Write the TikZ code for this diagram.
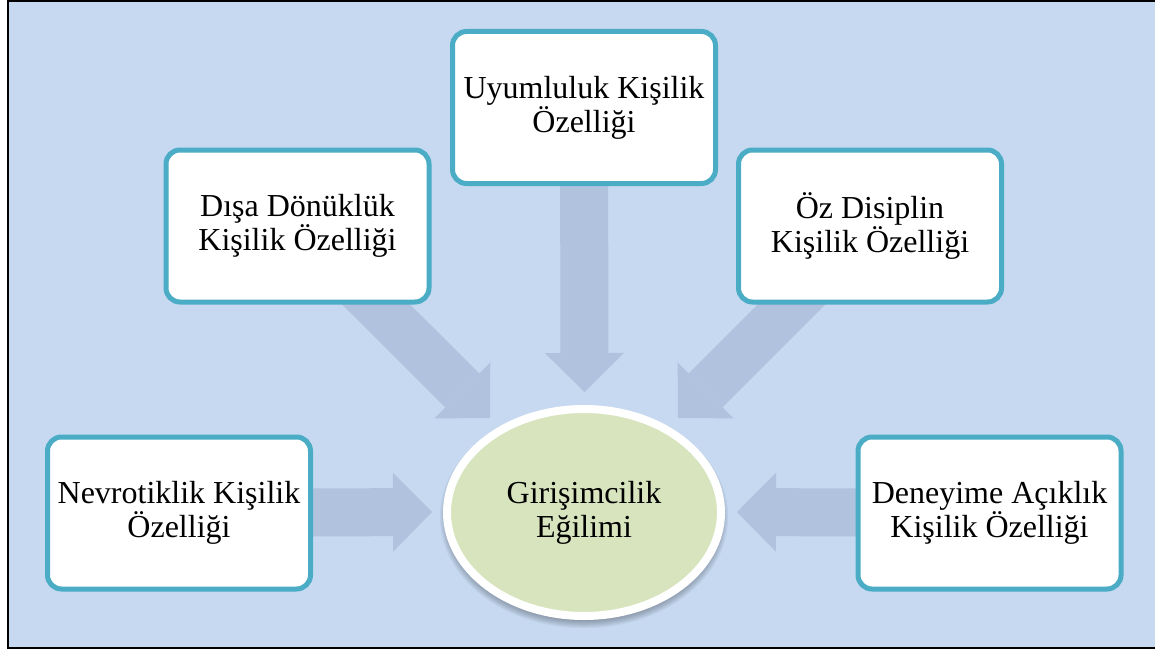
\documentclass[tikz,border=0pt]{standalone}
\usepackage{fontspec}
\setmainfont{Liberation Serif}
\usetikzlibrary{shapes.geometric,arrows.meta}
\definecolor{bgblue}{HTML}{C6D9F1}
\definecolor{arrowblue}{HTML}{B0C2DE}
\definecolor{boxteal}{HTML}{4BACC6}
\definecolor{ellgreen}{HTML}{D7E4BD}
\begin{document}
\begin{tikzpicture}[x=1pt,y=-1pt,
  trait/.style={draw=boxteal, line width=5pt, fill=white, rounded corners=14pt,
    minimum width=263pt, minimum height=152pt, align=center,
    font=\fontsize{32}{34}\selectfont, inner sep=0pt},
  bigarrow/.style={draw=arrowblue, line width=48pt,
    -{Triangle[width=79pt,length=39pt,line width=0pt]}},
  centre/.style={ellipse, draw=white, line width=8pt, fill=ellgreen,
    minimum width=274pt, minimum height=207pt, align=center,
    font=\fontsize{32}{34}\selectfont, inner sep=0pt}]
\useasboundingbox (0,0) rectangle (1155,650);
\fill[bgblue] (8,1) rectangle (1170,648);
\draw[line width=2pt] (8,1) rectangle (1170,648);

% anchor positions
\coordinate (cT) at (584,107.5);
\coordinate (cL) at (297.5,226);
\coordinate (cR) at (870,226);
\coordinate (cN) at (179,513);
\coordinate (cD) at (989.5,513);
\coordinate (tT) at (584.5,392);
\coordinate (tL) at (490,418);
\coordinate (tR) at (678,418);
\coordinate (tN) at (432,512);
\coordinate (tD) at (737,512);

% arrows (behind the boxes)
\draw[bigarrow] (cT) -- (tT);
\draw[bigarrow] (cL) -- (tL);
\draw[bigarrow] (cR) -- (tR);
\draw[bigarrow] (cN) -- (tN);
\draw[bigarrow] (cD) -- (tD);

% shadow of the ellipse
\foreach \i in {0,1,...,6}{
  \fill[black, opacity=0.045] (584,517) ellipse [x radius={(137+\i*1.2)*1pt}, y radius={(104+\i*1.2)*1pt}];
}

\node[trait] (top) at (cT) {Uyumluluk Kişilik\\Özelliği};
\node[trait] (ext) at (cL) {Dışa Dönüklük\\Kişilik Özelliği};
\node[trait] (con) at (cR) {Öz Disiplin\\Kişilik Özelliği};
\node[trait] (neu) at (cN) {Nevrotiklik Kişilik\\Özelliği};
\node[trait] (ope) at (cD) {Deneyime Açıklık\\Kişilik Özelliği};
\node[centre] (ent) at (584,512.5) {Girişimcilik\\Eğilimi};
\end{tikzpicture}
\end{document}
